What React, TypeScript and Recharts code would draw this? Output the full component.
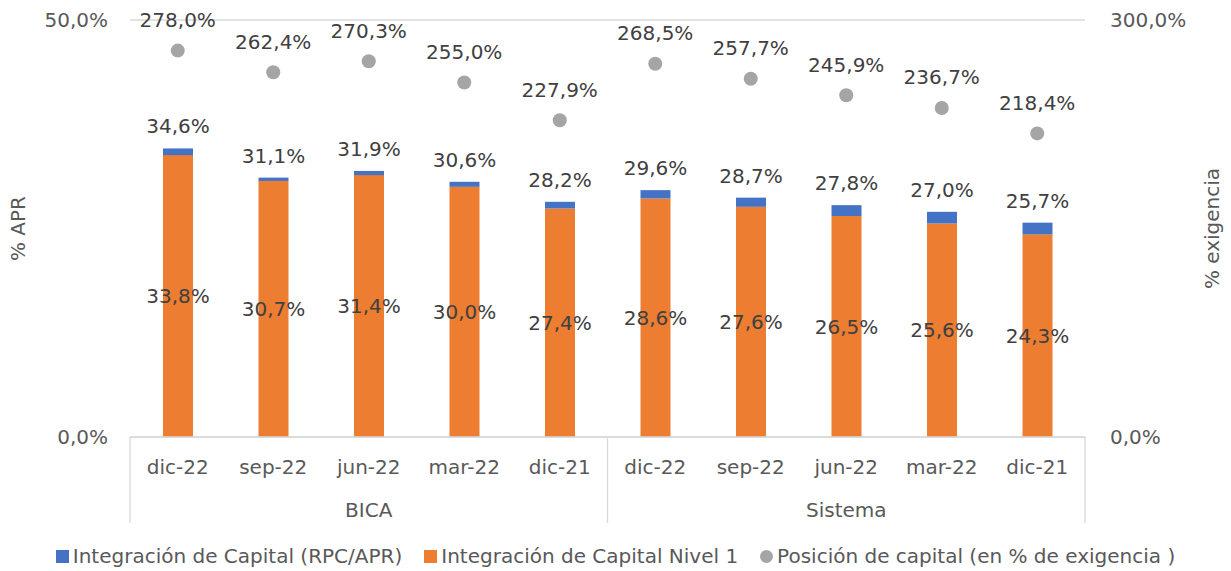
import { ComposedChart, Bar, Scatter, XAxis, YAxis, CartesianGrid, Legend, LabelList, Label } from 'recharts'

const periodos = ['dic-22', 'sep-22', 'jun-22', 'mar-22', 'dic-21', 'dic-22', 'sep-22', 'jun-22', 'mar-22', 'dic-21']
const grupos = ['BICA', 'BICA', 'BICA', 'BICA', 'BICA', 'Sistema', 'Sistema', 'Sistema', 'Sistema', 'Sistema']
const integracionTotal = [34.6, 31.1, 31.9, 30.6, 28.2, 29.6, 28.7, 27.8, 27.0, 25.7]
const integracionNivel1 = [33.8, 30.7, 31.4, 30.0, 27.4, 28.6, 27.6, 26.5, 25.6, 24.3]
const posicionCapital = [278.0, 262.4, 270.3, 255.0, 227.9, 268.5, 257.7, 245.9, 236.7, 218.4]

const data = periodos.map((p, i) => ({
  key: `${grupos[i]}-${p}`,
  periodo: p,
  grupo: grupos[i],
  total: integracionTotal[i],
  nivel1: integracionNivel1[i],
  resto: +(integracionTotal[i] - integracionNivel1[i]).toFixed(1),
  posicion: posicionCapital[i],
}))

const W = 1231
const H = 571
const PLOT_LEFT = 130
const PLOT_RIGHT = 1085
const BAND = (PLOT_RIGHT - PLOT_LEFT) / data.length

const FONT = '"DejaVu Sans", sans-serif'
const AXIS_COLOR = '#595959'
const LABEL_COLOR = '#404040'
const LINE_COLOR = '#D9D9D9'
const BLUE = '#4472C4'
const ORANGE = '#ED7D31'
const GRAY = '#A5A5A5'

const fmt = (v: number) => v.toFixed(1).replace('.', ',') + '%'

const legendItems = [
  { name: 'Integración de Capital (RPC/APR)', color: BLUE, shape: 'square' },
  { name: 'Integración de Capital Nivel 1', color: ORANGE, shape: 'square' },
  { name: 'Posición de capital (en % de exigencia )', color: GRAY, shape: 'circle' },
]

function CategoryTick(props: any) {
  const { x, y, index } = props
  const row = data[index]
  const left = x - BAND / 2
  const right = x + BAND / 2
  const groupStart = index === 0 || data[index - 1].grupo !== row.grupo
  const isLast = index === data.length - 1
  const count = data.filter((d) => d.grupo === row.grupo).length
  const firstIdx = data.findIndex((d) => d.grupo === row.grupo)
  const isMiddle = index === firstIdx + Math.floor(count / 2)
  return (
    <g>
      <text x={x} y={y + 30} textAnchor="middle" dominantBaseline="central" fill={AXIS_COLOR} fontSize={20} fontFamily={FONT}>
        {row.periodo}
      </text>
      {isMiddle && (
        <text x={count % 2 ? x : left} y={y + 73} textAnchor="middle" dominantBaseline="central" fill={AXIS_COLOR} fontSize={20} fontFamily={FONT}>
          {row.grupo}
        </text>
      )}
      {groupStart && <line x1={left} x2={left} y1={y} y2={y + 86} stroke={LINE_COLOR} strokeWidth={1.3} />}
      {isLast && <line x1={right} x2={right} y1={y} y2={y + 86} stroke={LINE_COLOR} strokeWidth={1.3} />}
    </g>
  )
}

function LegendContent() {
  return (
    <div
      style={{
        display: 'flex',
        justifyContent: 'center',
        alignItems: 'center',
        gap: 22,
        height: 30,
        fontFamily: FONT,
        fontSize: 20,
        color: AXIS_COLOR,
        whiteSpace: 'nowrap',
      }}
    >
      {legendItems.map((it) => (
        <span key={it.name} style={{ display: 'flex', alignItems: 'center', gap: 4 }}>
          <span
            style={{
              width: 13,
              height: 13,
              background: it.color,
              borderRadius: it.shape === 'circle' ? '50%' : 0,
              display: 'inline-block',
            }}
          />
          {it.name}
        </span>
      ))}
    </div>
  )
}

export default function App() {
  return (
    <div style={{ position: 'absolute', left: 0, top: 0, width: W, height: H, background: '#fff' }}>
      <ComposedChart width={W} height={H} data={data} margin={{ top: 20, right: 0, bottom: 0, left: 0 }} barCategoryGap={0}>
        <CartesianGrid yAxisId="left" vertical={false} stroke={LINE_COLOR} strokeWidth={1.3} />
        <XAxis
          dataKey="key"
          interval={0}
          height={104}
          axisLine={{ stroke: LINE_COLOR, strokeWidth: 1.3 }}
          tickLine={false}
          tickSize={0}
          tickMargin={0}
          tick={<CategoryTick />}
        />
        <YAxis
          yAxisId="left"
          width={PLOT_LEFT}
          domain={[0, 50]}
          ticks={[0, 50]}
          tickFormatter={fmt}
          axisLine={false}
          tickLine={false}
          tickSize={0}
          tickMargin={22}
          tick={{ fontSize: 20, fontFamily: FONT, fill: AXIS_COLOR }}
        >
          <Label value="% APR" angle={-90} position="insideLeft" offset={18} style={{ fontSize: 20, fontFamily: FONT, fill: AXIS_COLOR, textAnchor: 'middle' }} />
        </YAxis>
        <YAxis
          yAxisId="right"
          orientation="right"
          width={W - PLOT_RIGHT}
          domain={[0, 300]}
          ticks={[0, 300]}
          tickFormatter={fmt}
          axisLine={false}
          tickLine={false}
          tickSize={0}
          tickMargin={25}
          tick={{ fontSize: 20, fontFamily: FONT, fill: AXIS_COLOR, textAnchor: 'start' }}
        >
          <Label value="% exigencia" angle={-90} position="insideRight" offset={19} style={{ fontSize: 20, fontFamily: FONT, fill: AXIS_COLOR, textAnchor: 'middle' }} />
        </YAxis>
        <Legend verticalAlign="bottom" height={30} content={<LegendContent />} />
        <Bar yAxisId="left" dataKey="nivel1" stackId="a" fill={ORANGE} barSize={30} isAnimationActive={false}>
          <LabelList dataKey="nivel1" position="center" formatter={(v: any) => fmt(v)} style={{ fontSize: 20, fontFamily: FONT, fill: LABEL_COLOR }} />
        </Bar>
        <Bar yAxisId="left" dataKey="resto" stackId="a" fill={BLUE} barSize={30} isAnimationActive={false}>
          <LabelList dataKey="total" position="top" offset={15} formatter={(v: any) => fmt(v)} style={{ fontSize: 20, fontFamily: FONT, fill: LABEL_COLOR }} />
        </Bar>
        <Scatter
          yAxisId="right"
          dataKey="posicion"
          fill={GRAY}
          isAnimationActive={false}
          shape={(p: any) => <circle cx={p.cx} cy={p.cy} r={7} fill={GRAY} />}
        >
          <LabelList dataKey="posicion" position="top" offset={19} formatter={(v: any) => fmt(v)} style={{ fontSize: 20, fontFamily: FONT, fill: LABEL_COLOR }} />
        </Scatter>
      </ComposedChart>
    </div>
  )
}
